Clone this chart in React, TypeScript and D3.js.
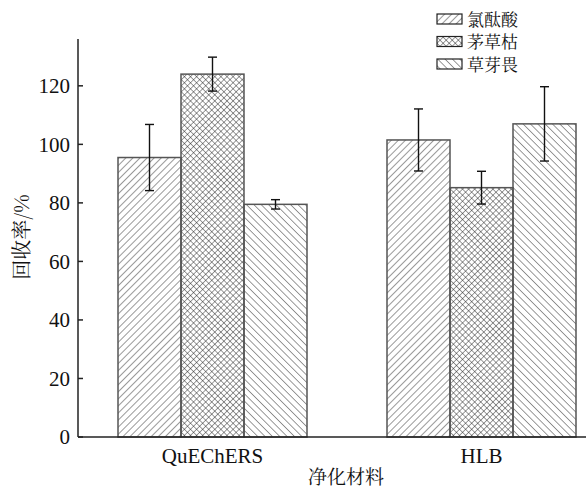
import * as d3 from "d3";

const groups = ["QuEChERS", "HLB"];
const series = ["氯酞酸", "茅草枯", "草芽畏"];
const means = [
  [95.5, 124.0, 79.5],
  [101.5, 85.2, 107.0],
];
const errs = [
  [11.3, 5.8, 1.6],
  [10.6, 5.6, 12.7],
];
const yTicks = [0, 20, 40, 60, 80, 100, 120];
const patternIds = ["hatchFwd", "hatchCross", "hatchBack"];

const W = 586;
const H = 488;
const left = 78;
const top = 39;
const bottom = 437;
const serif = "'Liberation Serif', 'Times New Roman', serif";
const cjk = "'Noto Serif CJK SC', 'Noto Sans CJK SC', serif";

export default function App() {
  const y = d3.scaleLinear().domain([0, 136]).range([bottom, top]);
  const x0 = d3.scaleBand().domain(groups).range([left, left + 2 * 269]).padding(0);
  const x1 = d3
    .scaleBand()
    .domain(series)
    .range([0, x0.bandwidth()])
    .paddingInner(0)
    .paddingOuter(0.635);

  return (
    <svg width={W} height={H} style={{ position: "absolute", left: 0, top: 0, background: "#fff" }}>
      <defs>
        <pattern id="hatchFwd" width={5} height={5} patternUnits="userSpaceOnUse" patternTransform="rotate(45)">
          <line x1={0} y1={0} x2={0} y2={5} stroke="#333" strokeWidth={1} />
        </pattern>
        <pattern id="hatchBack" width={5.2} height={5.2} patternUnits="userSpaceOnUse" patternTransform="rotate(-45)">
          <line x1={0} y1={0} x2={0} y2={5.2} stroke="#333" strokeWidth={1} />
        </pattern>
        <pattern id="hatchCross" width={4.3} height={4.3} patternUnits="userSpaceOnUse" patternTransform="rotate(45)">
          <line x1={0} y1={0} x2={0} y2={4.3} stroke="#222" strokeWidth={0.9} />
          <line x1={0} y1={0} x2={4.3} y2={0} stroke="#222" strokeWidth={0.9} />
        </pattern>
      </defs>

      {groups.map((g, gi) => (
        <g key={g} transform={`translate(${x0(g)},0)`}>
          {series.map((s, si) => {
            const v = means[gi][si];
            const e = errs[gi][si];
            const bx = x1(s)!;
            const bw = x1.bandwidth();
            const cx = bx + bw / 2;
            return (
              <g key={s}>
                <rect
                  x={bx}
                  y={y(v)}
                  width={bw}
                  height={y(0) - y(v)}
                  fill={`url(#${patternIds[si]})`}
                  stroke="#555"
                  strokeWidth={1.5}
                />
                <line x1={cx} x2={cx} y1={y(v + e)} y2={y(v - e)} stroke="#111" strokeWidth={1.4} />
                <line x1={cx - 4.5} x2={cx + 4.5} y1={y(v + e)} y2={y(v + e)} stroke="#111" strokeWidth={1.4} />
                <line x1={cx - 4.5} x2={cx + 4.5} y1={y(v - e)} y2={y(v - e)} stroke="#111" strokeWidth={1.4} />
              </g>
            );
          })}
          <text
            x={x0.bandwidth() / 2}
            y={463}
            textAnchor="middle"
            fontFamily={serif}
            fontSize={21}
            fill="#111"
          >
            {g}
          </text>
        </g>
      ))}

      {/* axes */}
      <line x1={left} x2={left} y1={top} y2={bottom} stroke="#222" strokeWidth={1.5} />
      <line x1={left} x2={W} y1={bottom} y2={bottom} stroke="#222" strokeWidth={1.5} />
      {yTicks.map((t) => (
        <g key={t}>
          <line x1={left} x2={left + 5} y1={y(t)} y2={y(t)} stroke="#222" strokeWidth={1.5} />
          <text
            x={70}
            y={y(t)}
            dy="0.35em"
            textAnchor="end"
            fontFamily={serif}
            fontSize={21}
            fill="#111"
          >
            {t}
          </text>
        </g>
      ))}

      <text
        transform={`translate(29,237) rotate(-90)`}
        textAnchor="middle"
        fontFamily={cjk}
        fontSize={20}
        fill="#111"
      >
        回收率/%
      </text>
      <text x={346} y={484} textAnchor="middle" fontFamily={cjk} fontSize={19} fill="#111">
        净化材料
      </text>

      {/* legend */}
      {series.map((s, i) => (
        <g key={s} transform={`translate(437,${14 + i * 22.5})`}>
          <rect width={25} height={10} fill={`url(#${patternIds[i]})`} stroke="#222" strokeWidth={1.2} />
          <text x={30} y={11.5} fontFamily={cjk} fontSize={17} fill="#111">
            {s}
          </text>
        </g>
      ))}
    </svg>
  );
}
